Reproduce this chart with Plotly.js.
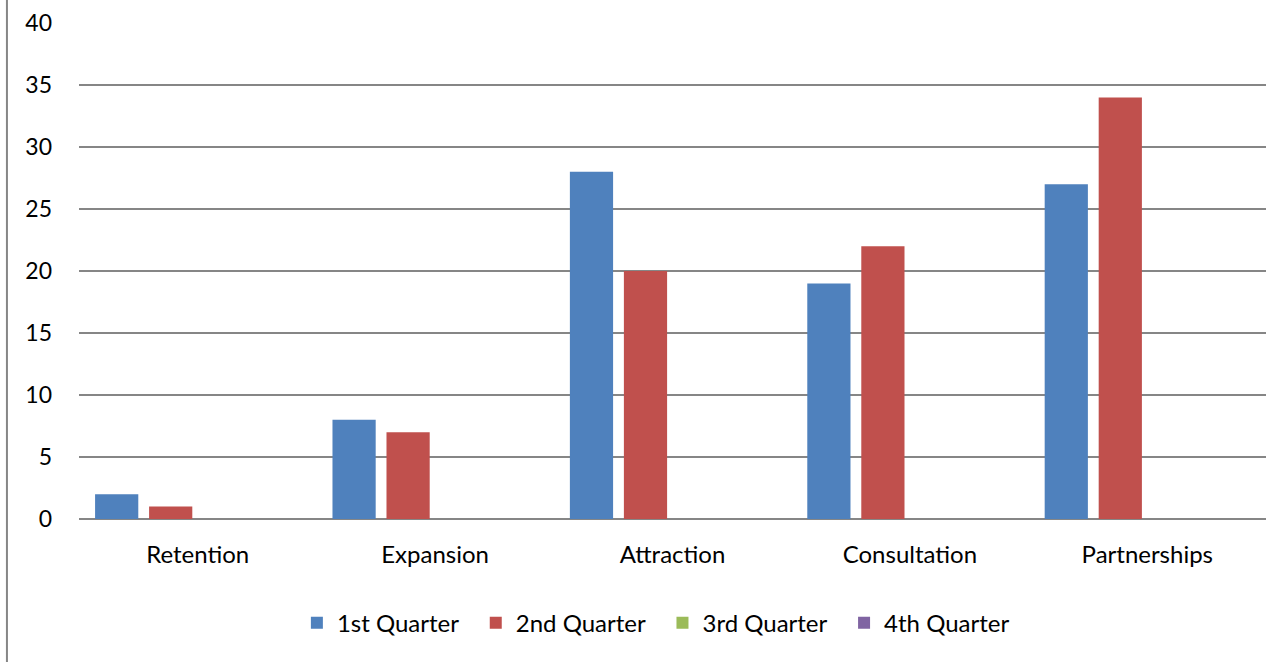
<!DOCTYPE html>
<html><head><meta charset="utf-8">
<script src="https://cdn.plot.ly/plotly-3.0.1.min.js"></script>
<style>html,body{margin:0;padding:0;background:#fff}#chart{width:1268px;height:662px}</style>
</head><body><div id="chart"></div>
<script>
const categories = ["Retention", "Expansion", "Attraction", "Consultation", "Partnerships"];
const q1 = [2, 8, 28, 19, 27];
const q2 = [1, 7, 20, 22, 34];
const q3 = [0, 0, 0, 0, 0];
const q4 = [0, 0, 0, 0, 0];
const seriesNames = ["1st Quarter", "2nd Quarter", "3rd Quarter", "4th Quarter"];
const seriesColors = ["#4F81BD", "#C0504D", "#9BBB59", "#8064A2"];
const yTicks = [0, 5, 10, 15, 20, 25, 30, 35, 40];

const vals = [q1, q2, q3, q4];
const pad = "\u00a0\u00a0";
const data = vals.map((v, i) => ({
  type: "bar", x: categories, y: v, name: seriesNames[i] + (i < vals.length - 1 ? pad : ""),
  marker: {color: seriesColors[i]}
}));
const font = "Lato, Open Sans, sans-serif";
const layout = {
  width: 1268, height: 662,
  margin: {l: 79, r: 2, t: 23, b: 143},
  paper_bgcolor: "#fff", plot_bgcolor: "#fff",
  barmode: "group", bargap: 0.09, bargroupgap: 0.2,
  font: {family: font, size: 24, color: "#000"},
  xaxis: {showgrid: false, ticks: "", ticklabelstandoff: 19, showline: false, zeroline: false,
          tickfont: {size: 24}},
  yaxis: {range: [0, 40], tickvals: yTicks, showgrid: true, gridcolor: "#868686", gridwidth: 1.3,
          zeroline: true, zerolinecolor: "#868686", zerolinewidth: 1.3, showline: false,
          ticks: "", ticklabelstandoff: 26, tickfont: {size: 23}},
  showlegend: true,
  legend: {orientation: "h", x: 0.486, xanchor: "center", y: -0.21, yanchor: "middle",
           font: {size: 24}, itemwidth: 20, traceorder: "normal"},
  shapes: [{type: "line", xref: "paper", yref: "paper", x0: -0.0607, x1: -0.0607, y0: -0.4, y1: 1.1,
            line: {color: "#868686", width: 2}}]
};
Plotly.newPlot("chart", data, layout, {displayModeBar: false, staticPlot: true});
</script></body></html>
